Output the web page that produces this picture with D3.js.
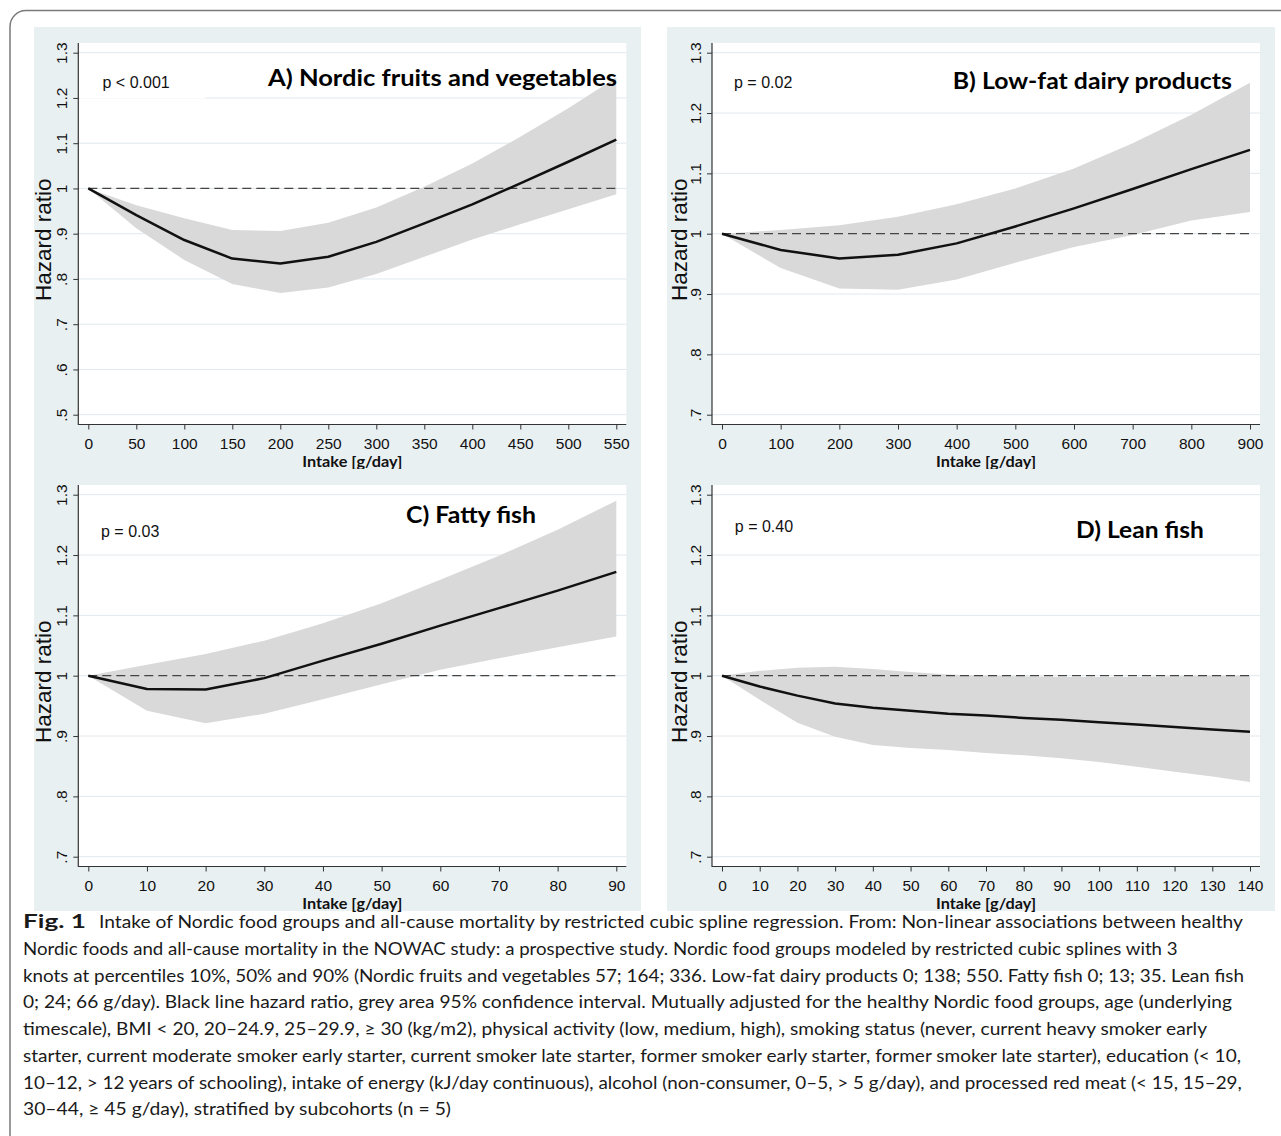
<!DOCTYPE html>
<html lang="en">
<head>
<meta charset="UTF-8" />
<title>Nordic food groups and all-cause mortality</title>
<style>
  body { margin: 0; background: #fff; }
  svg { display: block; }
  .tick text { font-family: "Liberation Sans", Arial, sans-serif; font-size: 15.5px; fill: #111; }
  .tick line { stroke: #333; }
</style>
</head>
<body>
<div id="chart"></div>
<script src="https://d3js.org/d3.v7.min.js"></script>
<script>
// A) Nordic fruits and vegetables
const fvIntake = [0, 50, 100, 150, 200, 250, 300, 350, 400, 450, 500, 550];
const fvHR     = [1, 0.941, 0.886, 0.845, 0.834, 0.849, 0.882, 0.923, 0.965, 1.011, 1.059, 1.108];
const fvLower  = [1, 0.912, 0.842, 0.789, 0.769, 0.781, 0.811, 0.849, 0.887, 0.921, 0.954, 0.987];
const fvUpper  = [1, 0.963, 0.934, 0.908, 0.906, 0.924, 0.958, 1.004, 1.055, 1.114, 1.177, 1.245];

// B) Low-fat dairy products
const dairyIntake = [0, 100, 200, 300, 400, 500, 600, 700, 800, 900];
const dairyHR     = [1, 0.973, 0.959, 0.965, 0.984, 1.012, 1.042, 1.074, 1.107, 1.139];
const dairyLower  = [1, 0.943, 0.909, 0.907, 0.924, 0.952, 0.978, 0.998, 1.022, 1.036];
const dairyUpper  = [1, 1.006, 1.014, 1.028, 1.049, 1.075, 1.108, 1.150, 1.197, 1.250];

// C) Fatty fish
const fattyIntake = [0, 10, 20, 30, 40, 50, 60, 70, 80, 90];
const fattyHR     = [1, 0.978, 0.977, 0.996, 1.025, 1.053, 1.083, 1.112, 1.141, 1.172];
const fattyLower  = [1, 0.942, 0.921, 0.937, 0.961, 0.986, 1.010, 1.029, 1.047, 1.065];
const fattyUpper  = [1, 1.018, 1.036, 1.058, 1.087, 1.120, 1.159, 1.199, 1.242, 1.290];

// D) Lean fish
const leanIntake = [0, 10, 20, 30, 40, 50, 60, 70, 80, 90, 100, 110, 120, 130, 140];
const leanHR     = [1, 0.982, 0.967, 0.954, 0.947, 0.942, 0.937, 0.934, 0.930, 0.927, 0.923, 0.919, 0.915, 0.911, 0.907];
const leanLower  = [1, 0.960, 0.922, 0.899, 0.885, 0.880, 0.877, 0.872, 0.868, 0.863, 0.857, 0.849, 0.841, 0.833, 0.824];
const leanUpper  = [1, 1.008, 1.013, 1.015, 1.011, 1.006, 1.002, 1.000, 0.999, 0.998, 0.998, 0.998, 0.999, 1.000, 1.000];

// axis ticks
const xTicksFV    = [0, 50, 100, 150, 200, 250, 300, 350, 400, 450, 500, 550];
const xTicksDairy = [0, 100, 200, 300, 400, 500, 600, 700, 800, 900];
const xTicksFatty = [0, 10, 20, 30, 40, 50, 60, 70, 80, 90];
const xTicksLean  = [0, 10, 20, 30, 40, 50, 60, 70, 80, 90, 100, 110, 120, 130, 140];
const yTicksFV    = [0.5, 0.6, 0.7, 0.8, 0.9, 1, 1.1, 1.2, 1.3];
const yTicksOther = [0.7, 0.8, 0.9, 1, 1.1, 1.2, 1.3];

const titles  = ["A) Nordic fruits and vegetables", "B) Low-fat dairy products", "C) Fatty fish", "D) Lean fish"];
const pValues = ["p < 0.001", "p = 0.02", "p = 0.03", "p = 0.40"];

const captionLines = [
  "Intake of Nordic food groups and all-cause mortality by restricted cubic spline regression. From: Non-linear associations between healthy",
  "Nordic foods and all-cause mortality in the NOWAC study: a prospective study. Nordic food groups modeled by restricted cubic splines with 3",
  "knots at percentiles 10%, 50% and 90% (Nordic fruits and vegetables 57; 164; 336. Low-fat dairy products 0; 138; 550. Fatty fish 0; 13; 35. Lean fish",
  "0; 24; 66 g/day). Black line hazard ratio, grey area 95% confidence interval. Mutually adjusted for the healthy Nordic food groups, age (underlying",
  "timescale), BMI < 20, 20–24.9, 25–29.9, ≥ 30 (kg/m2), physical activity (low, medium, high), smoking status (never, current heavy smoker early",
  "starter, current moderate smoker early starter, current smoker late starter, former smoker early starter, former smoker late starter), education (< 10,",
  "10–12, > 12 years of schooling), intake of energy (kJ/day continuous), alcohol (non-consumer, 0–5, > 5 g/day), and processed red meat (< 15, 15–29,",
  "30–44, ≥ 45 g/day), stratified by subcohorts (n = 5)"
];

// layout (pixels)
const colLeft = [78.3, 712];
const rowTop = [43, 485];
const colBg = [[34, 641], [667, 1275]];
const rowBg = [[27, 469], [469, 911]];
const yTitleOffset = [27, 25];
const plotW = 548, plotH = 381.5;
const captionEnds = [1243, 1177.6, 1244, 1232, 1207, 1241, 1241.8, 451];

const panels = [
  { intake: fvIntake, hr: fvHR, lo: fvLower, hi: fvUpper, xTicks: xTicksFV, yTicks: yTicksFV,
    col: 0, row: 0, tx: 189.7, ty: 43, tw: 349, px: 24.2, py: 45.3 },
  { intake: dairyIntake, hr: dairyHR, lo: dairyLower, hi: dairyUpper, xTicks: xTicksDairy, yTicks: yTicksOther,
    col: 1, row: 0, tx: 240.8, ty: 45.5, tw: 279, px: 22, py: 45 },
  { intake: fattyIntake, hr: fattyHR, lo: fattyLower, hi: fattyUpper, xTicks: xTicksFatty, yTicks: yTicksOther,
    col: 0, row: 1, tx: 327.7, ty: 37.7, tw: 130, px: 22.7, py: 51.7 },
  { intake: leanIntake, hr: leanHR, lo: leanLower, hi: leanUpper, xTicks: xTicksLean, yTicks: yTicksOther,
    col: 1, row: 1, tx: 364, ty: 53.3, tw: 128, px: 22.8, py: 46.7 }
];

// Stata-style labels: 1.3, 1, .9 ...
const fmtHR = d => d === 1 ? "1" : (d < 1 ? d3.format(".1f")(d).replace(/^0/, "") : d3.format(".1f")(d));

const svg = d3.select("#chart").append("svg")
  .attr("width", 1281)
  .attr("height", 1136);

svg.append("rect").attr("width", 1281).attr("height", 1136).attr("fill", "#fff");

// outer rounded frame (runs off the right and bottom edges)
svg.append("rect")
  .attr("x", 10).attr("y", 10.5)
  .attr("width", 1320).attr("height", 1200)
  .attr("rx", 16)
  .attr("fill", "none")
  .attr("stroke", "#7a7a7a")
  .attr("stroke-width", 1.5);

panels.forEach((p, i) => {
  const L = colLeft[p.col], T = rowTop[p.row];
  const R = L + plotW, B = T + plotH;
  const g = svg.append("g");

  g.append("rect")
    .attr("x", colBg[p.col][0]).attr("y", rowBg[p.row][0])
    .attr("width", colBg[p.col][1] - colBg[p.col][0])
    .attr("height", rowBg[p.row][1] - rowBg[p.row][0])
    .attr("fill", "#e9f0f2");

  g.append("rect")
    .attr("x", L).attr("y", T)
    .attr("width", plotW).attr("height", plotH)
    .attr("fill", "#fff");

  const x = d3.scaleLinear().domain([0, d3.max(p.xTicks)]).range([L + 10, R - 10]);
  const y = d3.scaleLinear().domain(d3.extent(p.yTicks)).range([B - 9.8, T + 9.7]);

  // grid
  g.append("g").selectAll("line")
    .data(p.yTicks)
    .enter()
    .append("line")
    .attr("x1", L).attr("x2", R)
    .attr("y1", d => y(d)).attr("y2", d => y(d))
    .attr("stroke", "#e1e9ed")
    .attr("stroke-width", 1);

  // p-value with white box
  g.append("rect")
    .attr("x", L + 1).attr("y", T + p.py - 18)
    .attr("width", p.px + 102).attr("height", 28)
    .attr("fill", "#fff");
  g.append("text")
    .attr("x", L + p.px).attr("y", T + p.py)
    .attr("font-family", "Liberation Sans, Arial, sans-serif")
    .attr("font-size", 16)
    .attr("fill", "#111")
    .text(pValues[i]);

  // confidence band
  const area = d3.area()
    .x((d, j) => x(p.intake[j]))
    .y0((d, j) => y(p.lo[j]))
    .y1((d, j) => y(p.hi[j]));
  g.append("path")
    .datum(p.hr)
    .attr("d", area)
    .attr("fill", "#d9d9d9");

  // reference line HR = 1
  g.append("line")
    .attr("x1", x(0)).attr("x2", x(d3.max(p.xTicks)))
    .attr("y1", y(1)).attr("y2", y(1))
    .attr("stroke", "#444")
    .attr("stroke-width", 1.3)
    .attr("stroke-dasharray", "9,5");

  // hazard ratio line
  const line = d3.line()
    .x((d, j) => x(p.intake[j]))
    .y(d => y(d));
  g.append("path")
    .datum(p.hr)
    .attr("d", line)
    .attr("fill", "none")
    .attr("stroke", "#111")
    .attr("stroke-width", 2.5)
    .attr("stroke-linejoin", "round");

  // axes
  const yAxis = g.append("g")
    .attr("transform", `translate(${L},0)`)
    .call(d3.axisLeft(y).tickValues(p.yTicks).tickSize(5).tickFormat(fmtHR));
  yAxis.select(".domain").remove();
  yAxis.selectAll(".tick text")
    .attr("x", 0).attr("dy", 0)
    .attr("text-anchor", "middle")
    .attr("transform", "translate(-11.5,0) rotate(-90)");

  const xAxis = g.append("g")
    .attr("transform", `translate(0,${B})`)
    .call(d3.axisBottom(x).tickValues(p.xTicks).tickSize(5));
  xAxis.select(".domain").remove();
  xAxis.selectAll(".tick text").attr("y", 24).attr("dy", 0);

  g.append("line")
    .attr("x1", L).attr("x2", L).attr("y1", T).attr("y2", B + 0.5)
    .attr("stroke", "#333").attr("stroke-width", 1.2);
  g.append("line")
    .attr("x1", L).attr("x2", R).attr("y1", B).attr("y2", B)
    .attr("stroke", "#333").attr("stroke-width", 1.2);

  // axis titles
  g.append("text")
    .attr("x", (L + R) / 2).attr("y", B + 42.5)
    .attr("text-anchor", "middle")
    .attr("font-family", "Lato, sans-serif")
    .attr("font-weight", "bold")
    .attr("font-size", 15)
    .attr("textLength", 100)
    .attr("lengthAdjust", "spacingAndGlyphs")
    .attr("fill", "#111")
    .text("Intake [g/day]");

  g.append("text")
    .attr("transform", `translate(${L - yTitleOffset[p.col]},${(T + B) / 2 + 6}) rotate(-90)`)
    .attr("text-anchor", "middle")
    .attr("font-family", "Liberation Sans, Arial, sans-serif")
    .attr("font-size", 22.5)
    .attr("fill", "#111")
    .text("Hazard ratio");

  // panel title
  g.append("text")
    .attr("x", L + p.tx).attr("y", T + p.ty)
    .attr("font-family", "Lato, sans-serif")
    .attr("font-weight", "bold")
    .attr("font-size", 22)
    .attr("textLength", p.tw)
    .attr("lengthAdjust", "spacingAndGlyphs")
    .attr("fill", "#000")
    .text(titles[i]);
});

// caption
const cap = svg.append("g")
  .attr("font-family", "Lato, sans-serif")
  .attr("font-size", 18)
  .attr("fill", "#1a1a1a");

cap.append("text")
  .attr("x", 23).attr("y", 928)
  .attr("font-weight", "bold")
  .attr("textLength", 63)
  .attr("lengthAdjust", "spacingAndGlyphs")
  .text("Fig. 1");

captionLines.forEach((t, i) => {
  const x0 = i === 0 ? 99 : 23;
  cap.append("text")
    .attr("x", x0)
    .attr("y", 928 + i * 26.75)
    .attr("textLength", captionEnds[i] - x0)
    .attr("lengthAdjust", "spacingAndGlyphs")
    .text(t);
});
</script>
</body>
</html>
